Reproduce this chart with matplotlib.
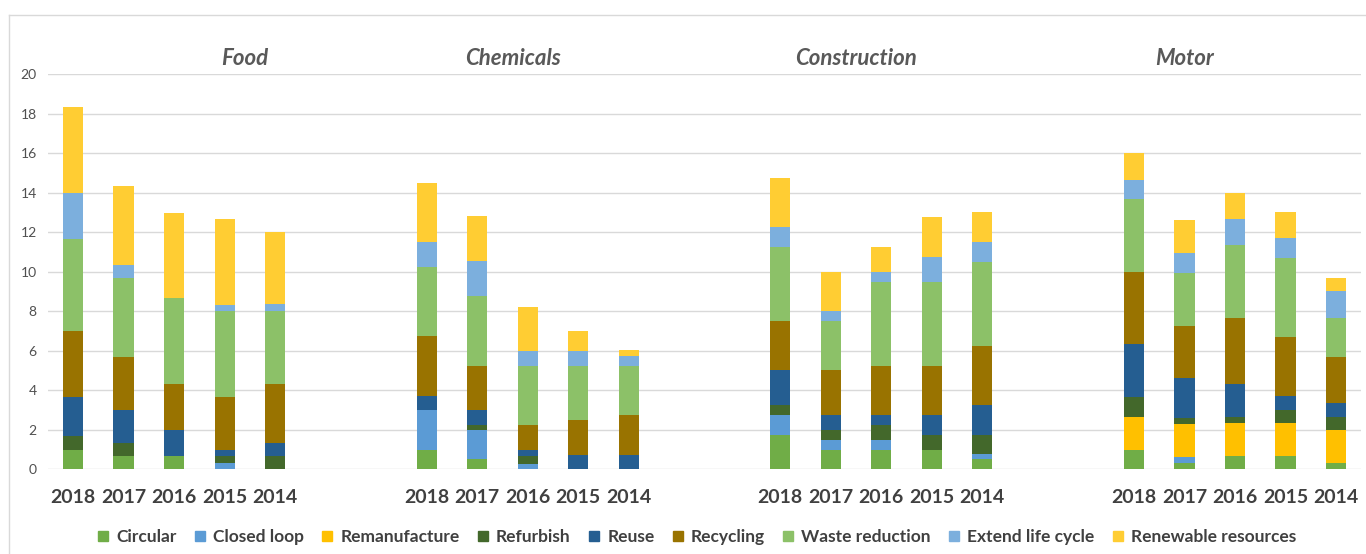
import numpy as np
import matplotlib.pyplot as plt
from matplotlib.lines import Line2D

plt.rcParams['font.family'] = ['Lato', 'DejaVu Sans']

# sectors and years (one bar per year, 2 empty slots between sectors)
sectors = ['Food', 'Chemicals', 'Construction', 'Motor']
years = ['2018', '2017', '2016', '2015', '2014']

categories = ['Circular', 'Closed loop', 'Remanufacture', 'Refurbish', 'Reuse',
              'Recycling', 'Waste reduction', 'Extend life cycle', 'Renewable resources']

# segment values, order: Food 2018..2014, Chemicals, Construction, Motor
circular = [1.0, 0.67, 0.67, 0, 0,
            1.0, 0.5, 0, 0, 0,
            1.75, 1.0, 1.0, 1.0, 0.5,
            1.0, 0.33, 0.67, 0.67, 0.33]
closed_loop = [0, 0, 0, 0.33, 0,
               2.0, 1.5, 0.25, 0, 0,
               1.0, 0.5, 0.5, 0, 0.25,
               0, 0.3, 0, 0, 0]
remanufacture = [0, 0, 0, 0, 0,
                 0, 0, 0, 0, 0,
                 0, 0, 0, 0, 0,
                 1.67, 1.67, 1.67, 1.67, 1.67]
refurbish = [0.67, 0.67, 0, 0.33, 0.67,
             0, 0.25, 0.42, 0, 0,
             0.5, 0.5, 0.75, 0.75, 1.0,
             1.0, 0.3, 0.3, 0.67, 0.67]
reuse = [2.0, 1.67, 1.33, 0.33, 0.67,
         0.7, 0.75, 0.3, 0.7, 0.7,
         1.75, 0.75, 0.5, 1.0, 1.5,
         2.65, 2.0, 1.7, 0.7, 0.67]
recycling = [3.33, 2.67, 2.33, 2.67, 3.0,
             3.05, 2.25, 1.25, 1.8, 2.05,
             2.5, 2.25, 2.5, 2.5, 3.0,
             3.67, 2.67, 3.33, 3.0, 2.33]
waste_reduction = [4.67, 4.0, 4.33, 4.33, 3.67,
                   3.5, 3.5, 3.0, 2.75, 2.5,
                   3.75, 2.5, 4.25, 4.25, 4.25,
                   3.67, 2.67, 3.67, 4.0, 2.0]
extend_life = [2.33, 0.67, 0, 0.33, 0.33,
               1.25, 1.8, 0.75, 0.75, 0.5,
               1.0, 0.5, 0.5, 1.25, 1.0,
               1.0, 1.0, 1.33, 1.0, 1.33]
renewable = [4.33, 4.0, 4.33, 4.33, 3.67,
             3.0, 2.25, 2.25, 1.0, 0.3,
             2.5, 2.0, 1.25, 2.0, 1.5,
             1.33, 1.67, 1.33, 1.33, 0.67]

series = [circular, closed_loop, remanufacture, refurbish, reuse,
          recycling, waste_reduction, extend_life, renewable]
colors = ['#70AD47', '#5B9BD5', '#FFC000', '#43682B', '#255E91',
          '#997300', '#8CC168', '#7CAFDD', '#FFCD33']

# x slots: 5 bars + 2 blanks per sector
slot = 7
x = np.array([s * slot + i for s in range(len(sectors)) for i in range(len(years))])
title_x = [3.4, 8.7, 15.5, 22.0]

fig = plt.figure(figsize=(13.66, 5.54), dpi=100)
ax = fig.add_axes([0.035, 0.1529, 0.9615, 0.7135])

bottom = np.zeros(len(x))
handles = []
for vals, col, name in zip(series, colors, categories):
    vals = np.array(vals)
    ax.bar(x, vals, width=0.4, bottom=bottom, color=col, zorder=3)
    bottom += vals
    handles.append(Line2D([], [], marker='s', linestyle='none', markersize=7,
                          markerfacecolor=col, markeredgecolor=col, label=name))

ax.set_xlim(-0.5, 25.5)
ax.set_ylim(0, 20)
ax.set_yticks(np.arange(0, 21, 2))
ax.yaxis.grid(True, color='#D9D9D9', linewidth=1, zorder=0)
for sp in ax.spines.values():
    sp.set_visible(False)
ax.tick_params(axis='y', length=0, labelsize=10, labelcolor='#505050', pad=8)
ax.set_xticks(x)
ax.set_xticklabels(years * len(sectors))
ax.tick_params(axis='x', length=0, labelsize=14, labelcolor='#404040', pad=14)
for t in ax.get_xticklabels():
    t.set_fontweight('bold')

for name, tx in zip(sectors, title_x):
    ax.text(tx, 20.8, name, ha='center', va='center', fontsize=16,
            fontweight='bold', style='italic', color='#595959')

fig.legend(handles=handles, loc='center', bbox_to_anchor=(0.51, 0.031), ncol=9,
           frameon=False, handlelength=0.7, handletextpad=0.4, columnspacing=1.0,
           prop={'size': 12.5, 'weight': 'bold'}, labelcolor='#404040')

# chart border lines (top and left)
fig.add_artist(Line2D([9 / 1366, 1], [1 - 15 / 554] * 2, color='#D9D9D9', linewidth=1))
fig.add_artist(Line2D([9 / 1366] * 2, [0, 1 - 15 / 554], color='#D9D9D9', linewidth=1))

fig.savefig('out.png', dpi=100, facecolor='white')
